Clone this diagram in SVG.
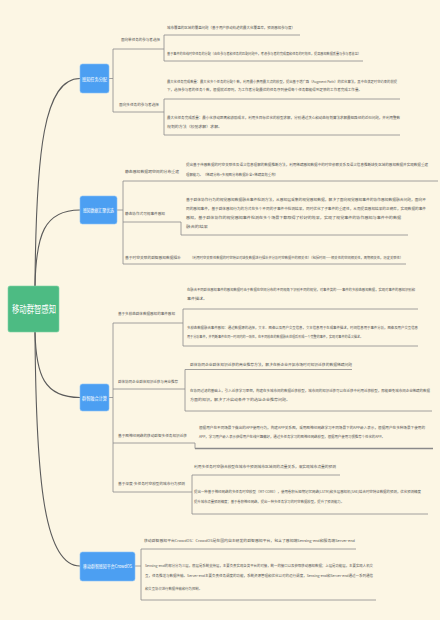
<svg xmlns="http://www.w3.org/2000/svg" width="440" height="620" viewBox="0 0 440 620">
<style>
.bg{fill:#fcf6e4}
.t{font-family:"Noto Sans CJK SC","Noto Sans",sans-serif;font-size:3.6px;fill:#555}
.w{font-family:"Noto Sans CJK SC","Noto Sans",sans-serif;fill:#fff}
.main{fill:none;stroke:#5b5b5b;stroke-width:1.1}
.ln{fill:none;stroke:#8a8a8a;stroke-width:0.8}
.blue{fill:#4c9ff2;stroke:#8cc2f7;stroke-width:0.6}
.root{fill:#4dbb83;stroke:#7fd3a6;stroke-width:0.6}
</style>
<rect class="bg" x="0" y="0" width="440" height="620"/>

<g id="connectors">
  <path class="main" d="M35,286 C36,150 44,78.5 80,78.5"/>
  <path class="main" d="M35,286 C36,235 44,210 80,210"/>
  <path class="main" d="M35,332 C36,375 44,397.5 80,397.5"/>
  <path class="main" d="M35,332 C36,480 44,566 80,566"/>
  <path class="ln" d="M109,78.5 H113 M113,49 V112 M113,49 H164 M113,112 H164 M164,35 V61 M164,99 V135"/>
  <path class="ln" d="M164,35 H300 M164,61 H363 M164,99 H400 M164,135 H400"/>
  <path class="ln" d="M117,210 H123 M123,181 V264 M123,181 H438 M123,222 H181 V235 H408 M123,264 H406"/>
  <path class="ln" d="M109,397.5 H113 M113,323 V492 M113,323 H183 M183,309 V346 M183,309 H418 M183,346 H418"/>
  <path class="ln" d="M113,389 H185 M185,369.5 V411 M185,369.5 H352 M185,411 H432"/>
  <path class="ln" d="M113,443 H195 V448.5"/>
  <path fill="none" stroke="#8a8a8a" stroke-width="1.6" d="M195,448.5 H433"/>
  <path class="ln" d="M113,492 H192 M192,475 V514 M192,475 H340 M192,514 H428"/>
  <path class="ln" d="M135,566 H141 M141,549 V600 M141,549 H356 M141,600 H376"/>
</g>

<g id="root">
  <rect class="root" x="8" y="286" width="51" height="46" rx="2"/>
  <text class="w" x="12" y="313" font-size="10" textLength="44" lengthAdjust="spacingAndGlyphs">移动群智感知</text>
</g>

<g id="b1">
  <rect class="blue" x="80" y="64" width="29" height="29" rx="2.5"/>
  <text class="w" x="82" y="80.5" font-size="4.8" textLength="25" lengthAdjust="spacingAndGlyphs">感知任务分配</text>
</g>
<g id="b1s1">
  <text class="t" x="121" y="40.5" textLength="39" lengthAdjust="spacingAndGlyphs">面向单任务的参与者选择</text>
</g>
<g id="b1s1c1">
  <text class="t" x="167" y="28.5" textLength="128" lengthAdjust="spacingAndGlyphs">城市覆盖的区域的覆盖问题（基于用户移动轨迹的最大化覆盖率，预测感知参与度）</text>
</g>
<g id="b1s1c2">
  <text class="t" x="167" y="54.5" textLength="194" lengthAdjust="spacingAndGlyphs">基于事件的在线时空任务的分配（由在参与者和任务的匹配问题中，考虑参与者的完成度和任务的时效性，提高感知数据质量与参与者收益）</text>
</g>
<g id="b1s2">
  <text class="t" x="119" y="105.5" textLength="40" lengthAdjust="spacingAndGlyphs">面向多任务的参与者选择</text>
</g>
<g id="b1s2c1">
  <text class="t" x="167" y="82.5" textLength="230" lengthAdjust="spacingAndGlyphs">最大化任务完成数量：最大化多个任务的分配个数，利用最小费用最大流的模型，提出基于增广路（Augment Path）的优化算法，其中在满足时空约束的前提</text>
  <text class="t" x="167" y="90.5" textLength="195" lengthAdjust="spacingAndGlyphs">下，选择参与者的任务个数，根据就近原则，为工作者分配最优的任务序列使得每个任务都能得到足够的工作者完成工作量。</text>
</g>
<g id="b1s2c2">
  <text class="t" x="167" y="118.5" textLength="233" lengthAdjust="spacingAndGlyphs">最大化任务完成质量：最小化移动距离和激励成本，利用多目标优化的模型求解，分别通过贪心和动态规划算法求解最短路径的近似问题，并利用整数</text>
  <text class="t" x="167" y="127.5" textLength="55" lengthAdjust="spacingAndGlyphs">规划的方法（松弛求解）求解。</text>
</g>

<g id="b2">
  <rect class="blue" x="80" y="196" width="37" height="28" rx="2.5"/>
  <text class="w" x="83" y="212" font-size="4.8" textLength="31" lengthAdjust="spacingAndGlyphs">感知数据汇聚优选</text>
</g>
<g id="b2s1">
  <text class="t" x="125" y="173" textLength="54" lengthAdjust="spacingAndGlyphs">静态感知数据跨空间的分布重建</text>
</g>
<g id="b2s1c1">
  <text class="t" x="186" y="165.5" textLength="242" lengthAdjust="spacingAndGlyphs">提出基于传感数据的时空关联性及语义信息理解的数据推断方法，利用稀疏感知数据中的时空依赖关系及语义信息推断缺失区域的感知数据并实现数据重建</text>
  <text class="t" x="186" y="175.5" textLength="92" lengthAdjust="spacingAndGlyphs">理解能力。（稀疏分布+多视图分布数据补全+稀疏高效重构）</text>
</g>
<g id="b2s2">
  <text class="t" x="125" y="214.5" textLength="40" lengthAdjust="spacingAndGlyphs">静态协作式可视事件感知</text>
</g>
<g id="b2s2c1">
  <text class="t" x="186" y="200.5" textLength="240" lengthAdjust="spacingAndGlyphs">基于群体协作行为的视觉感知数据融合事件检测方法，从感知层采集的视觉感知数据，解决了面向视觉感知事件的协作感知数据融合问题，面向不</text>
  <text class="t" x="186" y="209.5" textLength="240" lengthAdjust="spacingAndGlyphs">同的感知事件，基于群体感知行为的方式在多个不同的子事件中检测结果，同时优化了子事件的重建性，从而提高感知结果的正确率，实现数据的事件</text>
  <text class="t" x="186" y="218.5" textLength="215" lengthAdjust="spacingAndGlyphs">感知，基于群体协作的视觉感知事件检测在多个场景下都取得了较好的效果，实现了视觉事件的协作感知与事件中的数据</text>
  <text class="t" x="186" y="227.5" textLength="22" lengthAdjust="spacingAndGlyphs">融合的结果</text>
</g>
<g id="b2s3">
  <text class="t" x="125" y="258.5" textLength="56" lengthAdjust="spacingAndGlyphs">基于时空关联的群智感知数据插补</text>
</g>
<g id="b2s3c1">
  <text class="t" x="190" y="258.5" textLength="213" lengthAdjust="spacingAndGlyphs">（利用时空关联性数据的时空特征对缺失数据进行插补并分析时空数据中的相关性）（包括时间——相关性的空间相关性，周期相关性，历史关联性）</text>
</g>

<g id="b3">
  <rect class="blue" x="80" y="384" width="29" height="27" rx="2.5"/>
  <text class="w" x="82" y="399.5" font-size="4.8" textLength="25" lengthAdjust="spacingAndGlyphs">群智融合计算</text>
</g>
<g id="b3s1">
  <text class="t" x="118" y="314.5" textLength="57" lengthAdjust="spacingAndGlyphs">基于多模态群体数据感知的事件感知</text>
</g>
<g id="b3s1c1">
  <text class="t" x="187" y="290.5" textLength="228" lengthAdjust="spacingAndGlyphs">在融合不同群体感知事件的感知数据时由于数据在空间分布的不同视角下识别不同的视觉，对事件类的——事件的多模态感知数据，实现对事件的感知识别和</text>
  <text class="t" x="187" y="299.5" textLength="20" lengthAdjust="spacingAndGlyphs">事件描述。</text>
</g>
<g id="b3s1c2">
  <text class="t" x="187" y="328.5" textLength="231" lengthAdjust="spacingAndGlyphs">多模态数据融合事件感知：通过数据源的选择，文本、图像以及用户交互信息，文本信息用于生成事件描述，时间信息用于事件分析，图像及用户交互信息</text>
  <text class="t" x="187" y="338" textLength="176" lengthAdjust="spacingAndGlyphs">用于分析事件，并判断事件在同一时间内的一致性，在不同模态的数据融合处理后形成一个完整的事件，实现对事件的语义描述。</text>
</g>
<g id="b3s2">
  <text class="t" x="118" y="382.5" textLength="60" lengthAdjust="spacingAndGlyphs">群体协同企业群体知识迁移与商业推荐</text>
</g>
<g id="b3s2c1">
  <text class="t" x="190" y="365.5" textLength="162" lengthAdjust="spacingAndGlyphs">群体协同企业群体知识迁移的商业推荐方法，解决在新企业开拓市场时对知识迁移的数据稀疏问题</text>
</g>
<g id="b3s2c2">
  <text class="t" x="190" y="391.5" textLength="240" lengthAdjust="spacingAndGlyphs">在协同过滤的基础上，引入迁移学习思想，构建在多城市间的数据迁移模型，城市间的知识迁移可以在迁移中利用迁移模型，即能避免城市间企业稀疏的数据</text>
  <text class="t" x="190" y="401" textLength="100" lengthAdjust="spacingAndGlyphs">方面的知识，解决了冷启动条件下的选址企业推荐问题。</text>
</g>
<g id="b3s3">
  <text class="t" x="118" y="436.5" textLength="69" lengthAdjust="spacingAndGlyphs">基于图神经网络的移动群智多任务知识迁移</text>
</g>
<g id="b3s3c1">
  <text class="t" x="199" y="428.5" textLength="226" lengthAdjust="spacingAndGlyphs">根据用户在不同场景下做出的APP使用行为，构建APP关系图，采用图神经网络学习不同场景下的APP嵌入表示，根据用户在多种场景下使用的</text>
  <text class="t" x="199" y="437.5" textLength="186" lengthAdjust="spacingAndGlyphs">APP，学习用户嵌入表示获得用户在线兴趣偏好，通过多任务学习的图神经网络模型，根据用户使用习惯推荐个性化的APP。</text>
</g>
<g id="b3s4">
  <text class="t" x="118" y="484.5" textLength="67" lengthAdjust="spacingAndGlyphs">基于深度-多任务时空模型的城市行为预测</text>
</g>
<g id="b3s4c1">
  <text class="t" x="194" y="467.5" textLength="142" lengthAdjust="spacingAndGlyphs">利用多任务时空融合模型在城市中预测城市区域间的流量关系，来实现城市流量的预测</text>
</g>
<g id="b3s4c2">
  <text class="t" x="194" y="492.5" textLength="227" lengthAdjust="spacingAndGlyphs">提出一种基于神经网络的多任务时空模型（MT-CORE），使用卷积长短期记忆网络(LSTM)和多层感知机(SAE)结合时空特征数据的预测，优化预测精度</text>
  <text class="t" x="194" y="502.5" textLength="150" lengthAdjust="spacingAndGlyphs">提升城市流量预测精度；基于卷积神经网络，提出一种多任务学习的时空数据模型，提升了预测能力。</text>
</g>

<g id="b4">
  <rect class="blue" x="80" y="552" width="55" height="29" rx="2.5"/>
  <text class="w" x="83" y="568" font-size="4.8" textLength="49" lengthAdjust="spacingAndGlyphs">移动群智感知平台CrowdOS</text>
</g>
<g id="b4c1">
  <text class="t" x="144" y="541.5" textLength="211" lengthAdjust="spacingAndGlyphs">移动群智感知平台CrowdOS：CrowdOS是在国内自主研发的群智感知平台，包含了感知端Sensing-end和服务端Server-end</text>
</g>
<g id="b4c2">
  <text class="t" x="145" y="567" textLength="228" lengthAdjust="spacingAndGlyphs">Sensing-end的部分分为三层，底层是系统支持层，主要负责实现各类平台的对接，统一的接口以及获取移动感知数据；上层是功能层，主要实现人机交</text>
  <text class="t" x="145" y="577" textLength="228" lengthAdjust="spacingAndGlyphs">互，任务推送与数据传输。Server-end主要负责任务调度的功能，系统资源管理和优化以对的运行调度，Sensing-end和Server-end通过一系列通信</text>
  <text class="t" x="145" y="590" textLength="57" lengthAdjust="spacingAndGlyphs">和交互协议进行数据传输和行为控制。</text>
</g>
</svg>
